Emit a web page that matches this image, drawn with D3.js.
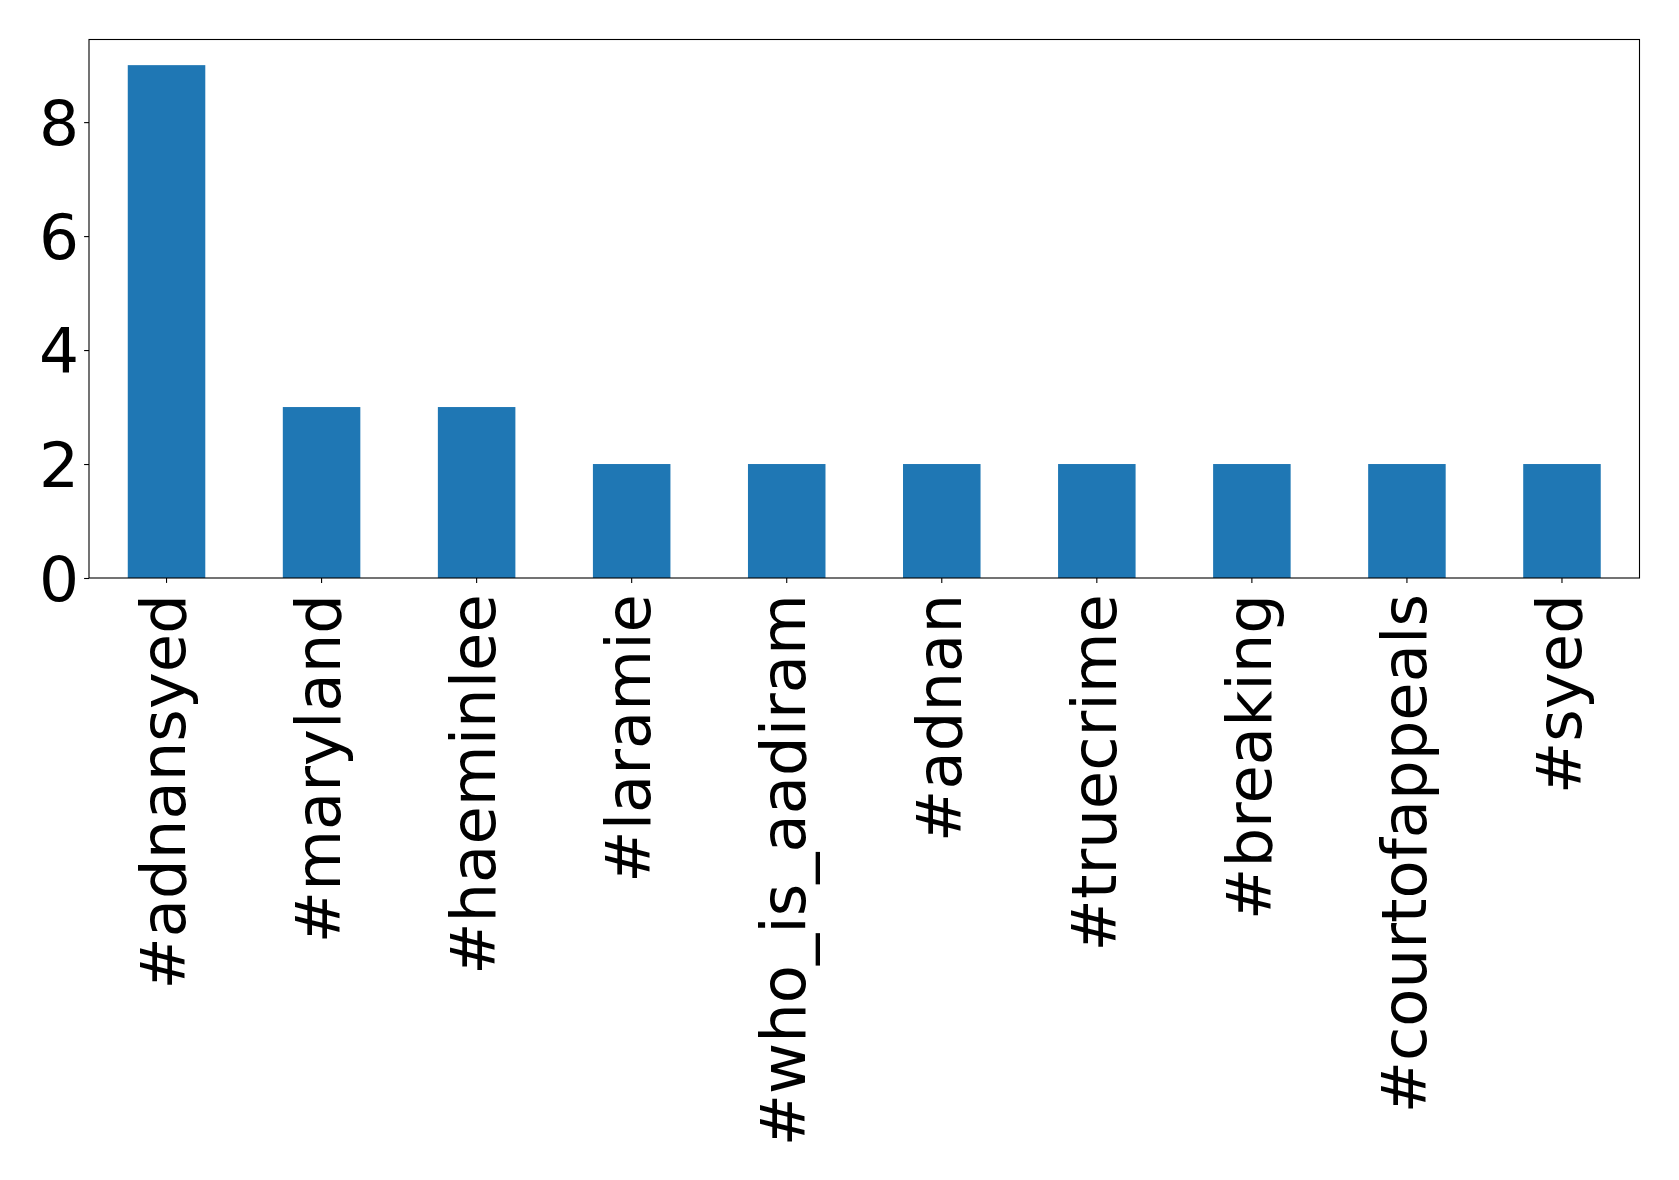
<!DOCTYPE html>
<html>
<head>
<meta charset="utf-8">
<script src="https://cdn.jsdelivr.net/npm/d3@7"></script>
<style>
html, body { margin: 0; padding: 0; background: #fff; }
svg { display: block; font-family: "DejaVu Sans", sans-serif; }
</style>
</head>
<body>
<svg id="chart" width="1679" height="1180"></svg>
<script>
const categories = ["#adnansyed", "#maryland", "#haeminlee", "#laramie", "#who_is_aadiram", "#adnan", "#truecrime", "#breaking", "#courtofappeals", "#syed"];
const counts = [9, 3, 3, 2, 2, 2, 2, 2, 2, 2];
const yTicks = [0, 2, 4, 6, 8];

const svg = d3.select("#chart");
const margin = { left: 89, top: 39.5, right: 1679 - 1639.5, bottom: 1180 - 578 };
const W = 1679 - margin.left - margin.right;
const H = 1180 - margin.top - margin.bottom;
const yFontSize = 63;
const xFontSize = 62.5;

const x = d3.scaleBand().domain(categories).range([0, W]).paddingInner(0.5).paddingOuter(0.25);
const y = d3.scaleLinear().domain([0, d3.max(counts) * 1.05]).range([H, 0]);

const g = svg.append("g").attr("transform", `translate(${margin.left},${margin.top})`);

g.selectAll("rect.bar").data(categories).enter().append("rect")
  .attr("class", "bar")
  .attr("x", d => x(d))
  .attr("width", x.bandwidth())
  .attr("y", (d, i) => y(counts[i]))
  .attr("height", (d, i) => H - y(counts[i]))
  .attr("fill", "#1f77b4");

// frame
g.append("rect").attr("x", 0).attr("y", 0).attr("width", W).attr("height", H)
  .attr("fill", "none").attr("stroke", "#000").attr("stroke-width", 1.1);

// y axis
const yAxis = d3.axisLeft(y).tickValues(yTicks).tickFormat(d3.format("d")).tickSize(4.9).tickPadding(4.9);
const ya = g.append("g").call(yAxis);
ya.select(".domain").remove();
ya.selectAll("line").attr("stroke", "#000").attr("stroke-width", 1.1);
ya.selectAll("text").attr("font-size", yFontSize).attr("font-family", "DejaVu Sans").attr("fill", "#000").attr("dy", "0.36em");

// x axis
const xAxis = d3.axisBottom(x).tickSize(4.9).tickPadding(0);
const xa = g.append("g").attr("transform", `translate(0,${H})`).call(xAxis);
xa.select(".domain").remove();
xa.selectAll("line").attr("stroke", "#000").attr("stroke-width", 1.1);
xa.selectAll("text")
  .attr("font-size", xFontSize)
  .attr("font-family", "DejaVu Sans")
  .attr("fill", "#000")
  .attr("y", 0).attr("x", 0).attr("dy", "0.3em")
  .attr("text-anchor", "end")
  .attr("transform", "translate(0,16) rotate(-90)");
</script>
</body>
</html>
